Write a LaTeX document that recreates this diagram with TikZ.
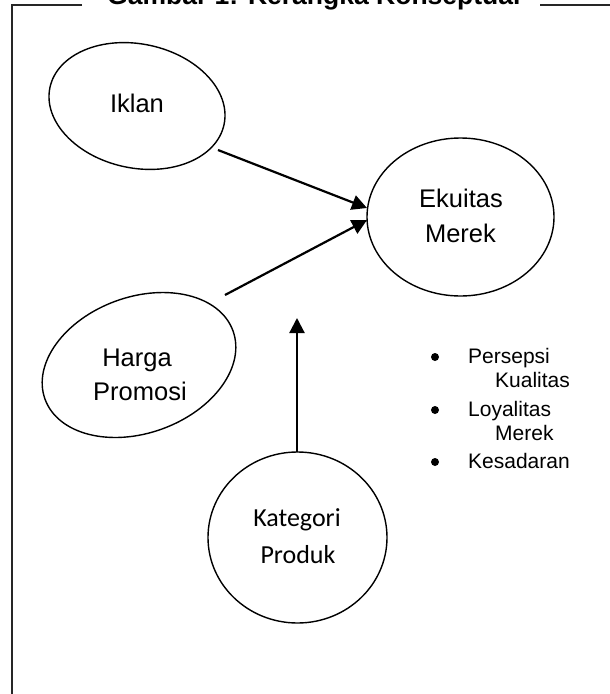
\documentclass[tikz,border=0pt]{standalone}
\usepackage{fontspec}
\setmainfont{Liberation Sans}
\newfontfamily\calibrifont{Carlito}
\usetikzlibrary{arrows.meta}
\begin{document}
\begin{tikzpicture}[x=1pt,y=-1pt,
  outline/.style={line width=1.4pt, draw=black},
  frameline/.style={line width=1.6pt, draw=black!85},
  conn/.style={line width=2.2pt, -{Triangle[length=15pt,width=15pt]}},
  lbl/.style={anchor=base, inner sep=0pt, font=\fontsize{25.5}{30}\selectfont},
  lblk/.style={anchor=base, inner sep=0pt, font=\calibrifont\fontsize{26}{30}\selectfont},
  item/.style={anchor=base west, inner sep=0pt, font=\fontsize{21}{25}\selectfont},
  dotmark/.style={fill=black, draw=none}]
\useasboundingbox (0,0) rectangle (610,694);
\clip (0,0) rectangle (610,694);

% frame
\draw[frameline] (82,5) -- (12,5) -- (12,700);
\draw[frameline] (540,5) -- (612,5);
\node[anchor=base west, inner sep=0pt, font=\bfseries\fontsize{26.5}{30}\selectfont] (title) at (107,4) {Gambar 1: Kerangka Konseptual};

% centres
\coordinate (ciklan) at (137,106);
\coordinate (charga) at (139,365);
\coordinate (cekuitas) at (460.5,217);
\coordinate (ckategori) at (297.5,537.5);

% shapes
\draw[outline, rotate around={-12:(ciklan)}] (ciklan) ellipse [x radius=89pt, y radius=62pt];
\draw[outline, rotate around={20:(charga)}] (charga) ellipse [x radius=100pt, y radius=68pt];
\draw[outline] (cekuitas) ellipse [x radius=93.5pt, y radius=79pt];
\draw[outline] (ckategori) ellipse [x radius=89.5pt, y radius=85.5pt];

% labels
\node[lbl] (iklan) at (137,112) {Iklan};
\node[lbl] (harga) at (137,366) {Harga};
\node[lbl] (promosi) at (140,400) {Promosi};
\node[lbl] (ekuitas) at (461,207) {Ekuitas};
\node[lbl] (merek) at (460.5,242) {Merek};
\node[lblk] (kategori) at (297,526) {Kategori};
\node[lblk] (produk) at (298,563) {Produk};

% connector ends
\coordinate (a1s) at (218,150);
\coordinate (a1e) at (367,208);
\coordinate (a2s) at (225,295);
\coordinate (a2e) at (367,220);
\coordinate (a3s) at (297,452);
\coordinate (a3e) at (297,318);
\draw[conn] (a1s) -- (a1e);
\draw[conn] (a2s) -- (a2e);
\draw[conn] (a3s) -- (a3e);

% bullet list
\fill[dotmark] (435,357) circle (4pt);
\fill[dotmark] (435,410) circle (4pt);
\fill[dotmark] (435,462) circle (4pt);
\node[item] (i1) at (468,363) {Persepsi};
\node[item] (i1b) at (495,387) {Kualitas};
\node[item] (i2) at (468,416) {Loyalitas};
\node[item] (i2b) at (495,440) {Merek};
\node[item] (i3) at (468,468) {Kesadaran};
\end{tikzpicture}
\end{document}
